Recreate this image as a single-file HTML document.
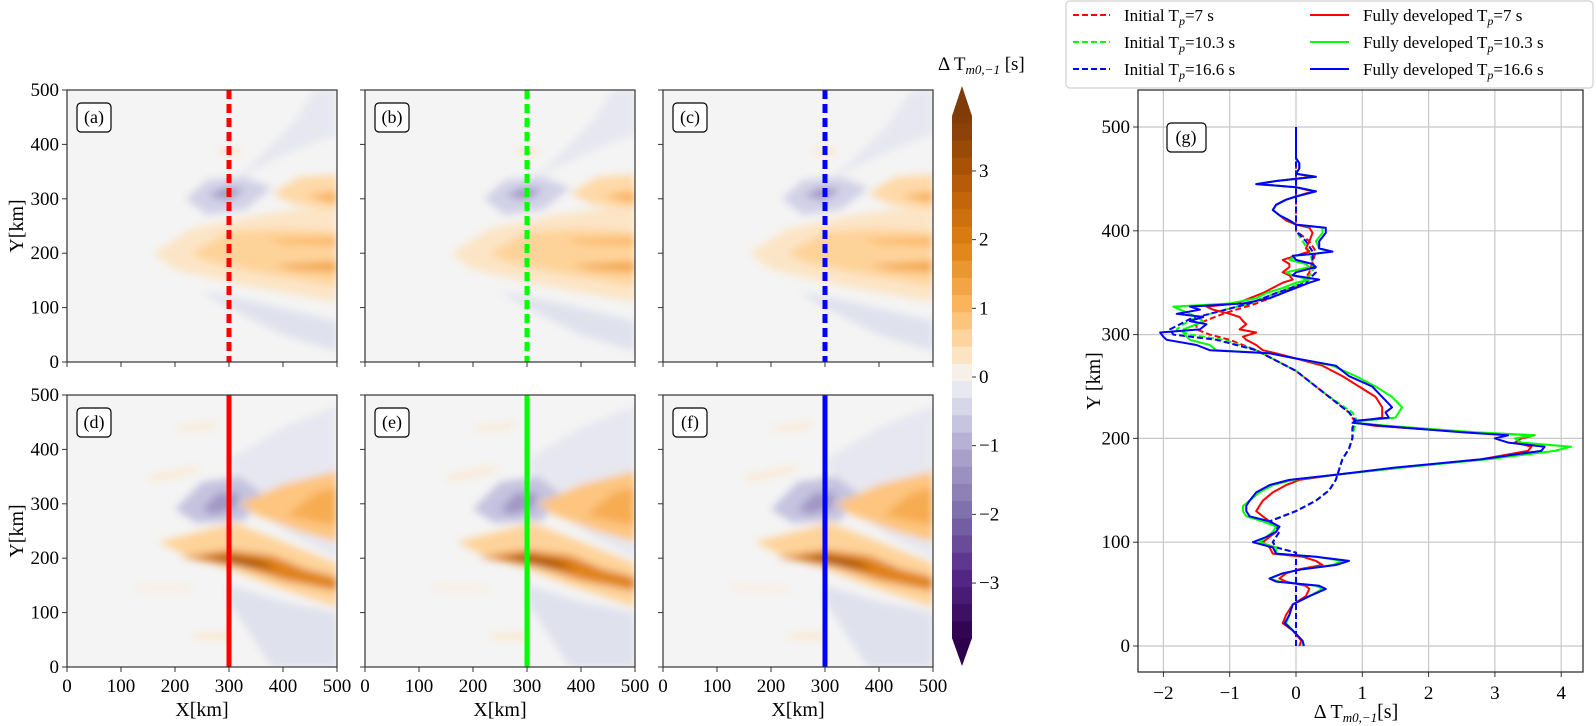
<!DOCTYPE html>
<html><head><meta charset="utf-8"><style>
html,body{margin:0;padding:0;background:#fff;}
svg{display:block;font-family:"Liberation Serif",serif;}
</style></head><body>
<svg id="fig" width="1596" height="726" viewBox="0 0 1596 726" xmlns="http://www.w3.org/2000/svg">
<defs>
<filter id="blur" x="-20%" y="-20%" width="140%" height="140%"><feGaussianBlur stdDeviation="4"/></filter>
</defs>
</svg>
<script>
// ---------- data ----------
const panelLabels = ["(a)","(b)","(c)","(d)","(e)","(f)"];
const lineColors = ["#ff0000","#00ff00","#0000ff"];
const xTicks = [0,100,200,300,400,500];
const yTicks = [0,100,200,300,400,500];
const cbTicks = [-3,-2,-1,0,1,2,3];
const cbLevelStep = 0.25;
const gXTicks = [-2,-1,0,1,2,3,4];
const gYTicks = [0,100,200,300,400,500];
// contour features (data units: x km, y km, value s)
const topShapesPts = [
 [[300,330],[400,380],[500,420],[500,500],[460,500],[420,440],[340,360]],
 [[220,300],[260,335],[330,340],[380,320],[330,280],[260,270]],
 [[260,305],[290,320],[330,318],[300,298]],
 [[160,200],[230,245],[350,270],[500,290],[500,110],[330,140],[200,170]],
 [[230,200],[300,240],[400,245],[500,240],[500,140],[350,165],[260,185]],
 [[380,178],[500,185],[500,165],[420,170]],
 [[370,225],[500,228],[500,215],[400,218]],
 [[380,310],[430,340],[500,345],[500,280],[420,290]],
 [[440,305],[500,315],[500,290]],
 [[250,130],[350,110],[500,75],[500,20],[400,50],[300,100]],
 [[280,392],[320,392],[315,380],[285,382]]
];
const topShapesVal = [-0.2,-0.5,-1.3,0.3,0.6,1.3,1.1,0.5,1.1,-0.3,0.35];
const botShapesPts = [
 [[300,380],[400,440],[500,480],[500,200],[420,240],[330,300]],
 [[300,150],[400,120],[500,100],[500,0],[380,0],[300,120]],
 [[200,290],[250,340],[320,350],[360,320],[330,270],[240,265]],
 [[250,290],[280,320],[320,320],[310,290],[270,280]],
 [[170,230],[250,250],[310,265],[400,230],[500,190],[500,110],[380,150],[300,180],[220,205]],
 [[320,300],[400,335],[500,360],[500,230],[430,250],[350,280]],
 [[410,280],[460,320],[500,330],[500,260],[450,270]],
 [[210,202],[300,215],[380,205],[440,180],[500,165],[500,140],[400,160],[320,185]],
 [[250,200],[300,205],[360,195],[390,180],[330,185],[280,195]],
 [[150,350],[250,370],[240,360],[160,342]],
 [[120,150],[230,145],[230,140],[130,145]],
 [[200,440],[280,450],[270,440],[210,435]],
 [[230,60],[300,62],[300,50],[240,52]]
];
const botShapesVal = [-0.2,-0.3,-0.7,-1.3,0.6,0.8,1.2,1.9,3.1,0.3,0.3,0.3,0.3];
// panel (g) series
const solidY = [0,5,15,22,30,40,48,55,58,62,65,70,74,78,82,86,89,95,100,105,110,115,120,125,130,135,140,148,155,160,165,172,180,188,192,196,200,203,206,212,215,217,220,225,230,240,250,260,270,277,282,285,290,295,298,302,305,310,313,317,320,324,327,330,335,340,345,350,353,357,360,365,368,372,376,378,380,383,390,398,403,406,410,415,420,425,430,433,438,442,445,448,452,455,460,465,470,500];
const blueSolid = [0.12,0.1,-0.05,-0.17,-0.1,-0.05,0.2,0.45,0.35,-0.3,-0.4,-0.2,0.1,0.6,0.8,0.3,-0.3,-0.35,-0.65,-0.45,-0.3,-0.25,-0.4,-0.7,-0.75,-0.75,-0.7,-0.6,-0.4,-0.1,0.6,1.5,2.8,3.7,3.75,3.2,3.0,3.2,2.5,1.3,0.85,0.9,1.4,1.35,1.45,1.3,1.15,0.8,0.6,0.0,-0.4,-1.3,-1.5,-1.95,-2.0,-2.05,-1.45,-1.35,-1.6,-1.4,-1.8,-1.45,-1.6,-0.8,-0.4,-0.2,0.0,0.2,0.35,-0.05,0.0,0.3,0.25,0.0,-0.05,0.3,0.55,0.35,0.35,0.45,0.45,0.0,-0.1,-0.25,-0.35,-0.3,-0.15,0.0,0.3,0.0,-0.6,-0.3,0.3,0.0,0.05,0.05,0.0,0.0];
const greenSolid = [0.1,0.1,-0.05,-0.15,-0.1,-0.05,0.2,0.4,0.3,-0.25,-0.4,-0.2,0.1,0.55,0.7,0.3,-0.3,-0.3,-0.55,-0.45,-0.35,-0.3,-0.5,-0.75,-0.8,-0.8,-0.7,-0.55,-0.35,-0.05,0.6,1.6,2.9,3.9,4.15,3.4,3.3,3.6,2.7,1.4,0.9,1.0,1.5,1.55,1.6,1.45,1.2,0.9,0.55,0.0,-0.4,-1.2,-1.3,-1.6,-1.65,-1.7,-1.7,-1.5,-1.4,-1.5,-1.6,-1.75,-1.85,-1.0,-0.6,-0.45,-0.2,0.0,0.2,-0.05,-0.15,0.2,0.15,-0.1,0.0,0.3,0.5,0.35,0.3,0.4,0.4,0.0,-0.1,-0.25,-0.35,-0.3,-0.15,0.0,0.3,0.0,-0.6,-0.3,0.3,0.0,0.05,0.05,0.0,0.0];
const redSolid = [0.05,0.08,-0.05,-0.2,-0.15,-0.05,0.15,0.2,0.15,-0.15,-0.25,-0.15,0.05,0.4,0.3,0.1,-0.35,-0.4,-0.5,-0.4,-0.3,-0.25,-0.4,-0.5,-0.6,-0.55,-0.5,-0.35,-0.15,0.05,0.6,1.6,2.8,3.5,3.55,3.3,3.4,3.6,2.6,1.2,0.9,1.0,1.3,1.3,1.3,1.2,0.95,0.7,0.4,0.0,-0.3,-0.5,-0.6,-0.75,-0.8,-0.6,-0.85,-0.75,-0.8,-0.85,-1.0,-1.25,-1.35,-0.9,-0.7,-0.5,-0.35,-0.2,-0.05,-0.1,-0.2,-0.1,-0.1,-0.2,0.0,0.1,0.2,0.15,0.2,0.25,0.2,0.0,-0.15,-0.25,-0.35,-0.3,-0.15,0.0,0.25,0.0,-0.55,-0.3,0.25,0.0,0.05,0.05,0.0,0.0];
const dashY = [0,90,95,100,105,110,115,120,125,130,140,150,160,170,180,190,200,210,217,225,235,245,255,265,275,285,295,300,305,310,315,320,325,330,340,350,360,370,380,390,400,410,500];
const blueDash = [0,0,-0.3,-0.35,-0.3,-0.25,-0.3,-0.4,-0.2,0.0,0.3,0.5,0.6,0.65,0.7,0.8,0.85,0.85,0.9,0.8,0.6,0.4,0.2,0.0,-0.3,-0.6,-1.2,-1.85,-1.9,-1.75,-1.6,-1.3,-1.0,-0.7,-0.3,0.15,0.3,0.25,0.25,0.15,0.0,0.0,0.0];
const greenDash = [0,0,-0.3,-0.35,-0.3,-0.25,-0.3,-0.4,-0.2,0.0,0.3,0.5,0.6,0.65,0.7,0.8,0.85,0.88,0.92,0.85,0.62,0.4,0.2,0.0,-0.3,-0.6,-1.1,-1.6,-1.8,-1.7,-1.55,-1.3,-1.0,-0.7,-0.3,0.1,0.25,0.25,0.2,0.1,0.0,0.0,0.0];
const redDash = [0,0,-0.3,-0.35,-0.3,-0.25,-0.3,-0.4,-0.2,0.0,0.3,0.5,0.6,0.65,0.7,0.8,0.85,0.85,0.88,0.8,0.6,0.4,0.2,0.0,-0.3,-0.6,-1.0,-1.3,-1.5,-1.5,-1.3,-1.1,-0.85,-0.6,-0.2,0.1,0.2,0.25,0.3,0.2,0.0,0.0,0.0];

// ---------- helpers ----------
const NS="http://www.w3.org/2000/svg";
const svg=document.getElementById('fig');
function mk(tag,attrs,parent){const e=document.createElementNS(NS,tag);for(const k in attrs)e.setAttribute(k,attrs[k]);(parent||svg).appendChild(e);return e;}
const cmapV=[-3.8,-2.9,-1.9,-1.0,-0.4,0,0.4,1.0,1.9,2.9,3.8];
const cmapC=[[45,0,75],[84,39,136],[128,115,172],[178,171,210],[216,218,235],[244,244,244],[254,224,182],[253,184,99],[224,130,20],[179,88,6],[127,59,8]];
function cmap(v){v=Math.max(-3.8,Math.min(3.8,v));for(let i=0;i<cmapV.length-1;i++){if(v<=cmapV[i+1]){const t=(v-cmapV[i])/(cmapV[i+1]-cmapV[i]);const a=cmapC[i],b=cmapC[i+1];return `rgb(${Math.round(a[0]+(b[0]-a[0])*t)},${Math.round(a[1]+(b[1]-a[1])*t)},${Math.round(a[2]+(b[2]-a[2])*t)})`;}}return 'rgb(127,59,8)';}

// ---------- contour panels ----------
const PW=270, PH=272;
const panelX=[67,365,663], panelY=[90,395];
for(let r=0;r<2;r++)for(let c=0;c<3;c++){
  const idx=r*3+c, x0=panelX[c], y0=panelY[r];
  const sx=v=>x0+v/500*PW, sy=v=>y0+PH-v/500*PH;
  const g=mk('g',{});
  
  
  const cp=mk('clipPath',{id:'cp'+idx},g);mk('rect',{x:x0,y:y0,width:PW,height:PH},cp);
  const bg=mk('rect',{x:x0,y:y0,width:PW,height:PH,fill:'#f4f4f4'},g);
  
  
  const cg=mk('g',{'clip-path':`url(#cp${idx})`},g);
  const fg=mk('g',{filter:'url(#blur)'},cg);
  const pts=r===0?topShapesPts:botShapesPts, vals=r===0?topShapesVal:botShapesVal;
  pts.forEach((poly,i)=>{
    const p=mk('polygon',{points:poly.map(q=>sx(q[0])+','+sy(q[1])).join(' '),fill:cmap(vals[i])},fg);
    
    
  });
  const ln=mk('line',{x1:sx(300),x2:sx(300),y1:y0,y2:y0+PH,stroke:lineColors[c],'stroke-width':5},cg);
  if(r===0)ln.setAttribute('stroke-dasharray','9,5');
  
  
  const fr=mk('rect',{x:x0,y:y0,width:PW,height:PH,fill:'none',stroke:'#333','stroke-width':1.2},g);
  
  
  const lb=mk('rect',{x:x0+10,y:y0+13,width:34,height:29,rx:4,fill:'#fff',stroke:'#000','stroke-width':1.2},g);
  
  
  const lt=mk('text',{x:x0+27,y:y0+33,'font-size':18,'text-anchor':'middle'},g);lt.textContent=panelLabels[idx];
  
  
  yTicks.forEach(t=>{mk('line',{x1:x0-5,x2:x0,y1:sy(t),y2:sy(t),stroke:'#333','stroke-width':1},g);
    if(c===0){const tx=mk('text',{x:x0-8,y:sy(t)+6,'font-size':19,'text-anchor':'end'},g);tx.textContent=t;
    
    }});
  xTicks.forEach(t=>{mk('line',{x1:sx(t),x2:sx(t),y1:y0+PH,y2:y0+PH+5,stroke:'#333','stroke-width':1},g);
    if(r===1){const tx=mk('text',{x:sx(t),y:y0+PH+25,'font-size':19,'text-anchor':'middle'},g);tx.textContent=t;
    
    }});
  if(c===0){const yl=mk('text',{x:0,y:0,'font-size':20,'text-anchor':'middle',transform:`translate(23,${y0+PH/2}) rotate(-90)`},g);yl.textContent='Y[km]';
    
    }
  if(r===1){const xl=mk('text',{x:x0+PW/2,y:716,'font-size':20,'text-anchor':'middle'},g);xl.textContent='X[km]';
    
    }
}

// ---------- colorbar ----------
(function(){
  const cx=952, cw=20, cTop=116, cBot=638, vmin=-3.8, vmax=3.8;
  const cy=v=>cBot-(v-vmin)/(vmax-vmin)*(cBot-cTop);
  const g=mk('g',{});
  
  
  for(let v=vmin;v<vmax-1e-6;v+=cbLevelStep){
    const v2=Math.min(vmax,v+cbLevelStep);
    mk('rect',{x:cx,y:cy(v2),width:cw,height:cy(v)-cy(v2)+0.5,fill:cmap((v+v2)/2)},g);
  }
  mk('polygon',{points:`${cx},${cTop} ${cx+cw/2},${cTop-30} ${cx+cw},${cTop}`,fill:cmap(3.8)},g);
  mk('polygon',{points:`${cx},${cBot} ${cx+cw/2},${cBot+28} ${cx+cw},${cBot}`,fill:cmap(-3.8)},g);
  cbTicks.forEach(t=>{mk('line',{x1:cx+cw,x2:cx+cw+4,y1:cy(t),y2:cy(t),stroke:'#333'},g);
    const tx=mk('text',{x:cx+cw+7,y:cy(t)+6,'font-size':19},g);tx.textContent=(t<0?'\u2212'+(-t):t);
    
    });
  const tl=mk('text',{x:938,y:70,'font-size':19},g);
  tl.innerHTML='Δ T<tspan font-size="13" font-style="italic" dy="4">m0,−1</tspan><tspan dy="-4"> [s]</tspan>';
  
  
})();

// ---------- panel (g) ----------
(function(){
  const L=1138,R=1583,T=90,B=672;
  const gx=v=>1296+v*66.3, gy=v=>646-v*1.038;
  const g=mk('g',{});
  
  
  const cp=mk('clipPath',{id:'cpg'},g);mk('rect',{x:L,y:T,width:R-L,height:B-T},cp);
  gXTicks.forEach(t=>{mk('line',{x1:gx(t),x2:gx(t),y1:T,y2:B,stroke:'#c8c8c8','stroke-width':1.2},g);
    mk('line',{x1:gx(t),x2:gx(t),y1:B,y2:B+5,stroke:'#333'},g);
    const tx=mk('text',{x:gx(t),y:B+27,'font-size':19,'text-anchor':'middle'},g);tx.textContent=(t<0?'\u2212'+(-t):t);
    
    });
  gYTicks.forEach(t=>{mk('line',{x1:L,x2:R,y1:gy(t),y2:gy(t),stroke:'#c8c8c8','stroke-width':1.2},g);
    mk('line',{x1:L-5,x2:L,y1:gy(t),y2:gy(t),stroke:'#333'},g);
    const tx=mk('text',{x:L-8,y:gy(t)+6,'font-size':19,'text-anchor':'end'},g);tx.textContent=t;
    
    });
  const sg=mk('g',{'clip-path':'url(#cpg)',fill:'none','stroke-width':2,'stroke-linejoin':'round'},g);
  const series=[[dashY,redDash,0,true,'initial-tp7-line'],[dashY,greenDash,1,true,'initial-tp10-line'],[dashY,blueDash,2,true,'initial-tp16-line'],
    [solidY,redSolid,0,false,'developed-tp7-line'],[solidY,greenSolid,1,false,'developed-tp10-line'],[solidY,blueSolid,2,false,'developed-tp16-line']];
  series.forEach(s=>{
    const n=Math.min(s[0].length,s[1].length);let d='';
    for(let i=0;i<n;i++)d+=(i?'L':'M')+gx(s[1][i]).toFixed(1)+','+gy(s[0][i]).toFixed(1);
    const p=mk('path',{d:d,stroke:lineColors[s[2]]},sg);
    if(s[3])p.setAttribute('stroke-dasharray','6,3');
    
    
  });
  mk('rect',{x:L,y:T,width:R-L,height:B-T,fill:'none',stroke:'#222','stroke-width':1.2},g);
  const lb=mk('rect',{x:1167,y:123,width:39,height:29,rx:4,fill:'#fff',stroke:'#000','stroke-width':1.2},g);
  
  
  const lt=mk('text',{x:1186,y:143,'font-size':18,'text-anchor':'middle'},g);lt.textContent='(g)';
  
  
  const yl=mk('text',{x:0,y:0,'font-size':20,'text-anchor':'middle',transform:`translate(1100,${(T+B)/2}) rotate(-90)`},g);yl.textContent='Y [km]';
  
  
  const xl=mk('text',{x:1356,y:718,'font-size':20,'text-anchor':'middle'},g);
  xl.innerHTML='Δ T<tspan font-size="13" font-style="italic" dy="4">m0,−1</tspan><tspan dy="-4">[s]</tspan>';
  
  
})();

// ---------- legend ----------
(function(){
  const g=mk('g',{});
  
  
  mk('rect',{x:1066,y:1,width:527,height:87,rx:4,fill:'#fff',stroke:'#d0d0d0','stroke-width':1.2},g);
  const labelsL=['7','10.3','16.6'];
  const rowsY=[15,42,69];
  for(let i=0;i<3;i++){
    const l1=mk('line',{x1:1073,x2:1110,y1:rowsY[i],y2:rowsY[i],stroke:lineColors[i],'stroke-width':2,'stroke-dasharray':'6,3'},g);
    
    
    const t1=mk('text',{x:1124,y:rowsY[i]+6,'font-size':17},g);
    t1.innerHTML='Initial T<tspan font-size="12" font-style="italic" dy="4">p</tspan><tspan dy="-4">=</tspan>'+labelsL[i]+' s';
    
    
    const l2=mk('line',{x1:1310,x2:1349,y1:rowsY[i],y2:rowsY[i],stroke:lineColors[i],'stroke-width':2},g);
    
    
    const t2=mk('text',{x:1363,y:rowsY[i]+6,'font-size':17},g);
    t2.innerHTML='Fully developed T<tspan font-size="12" font-style="italic" dy="4">p</tspan><tspan dy="-4">=</tspan>'+labelsL[i]+' s';
    
    
  }
})();
</script>
</body></html>
